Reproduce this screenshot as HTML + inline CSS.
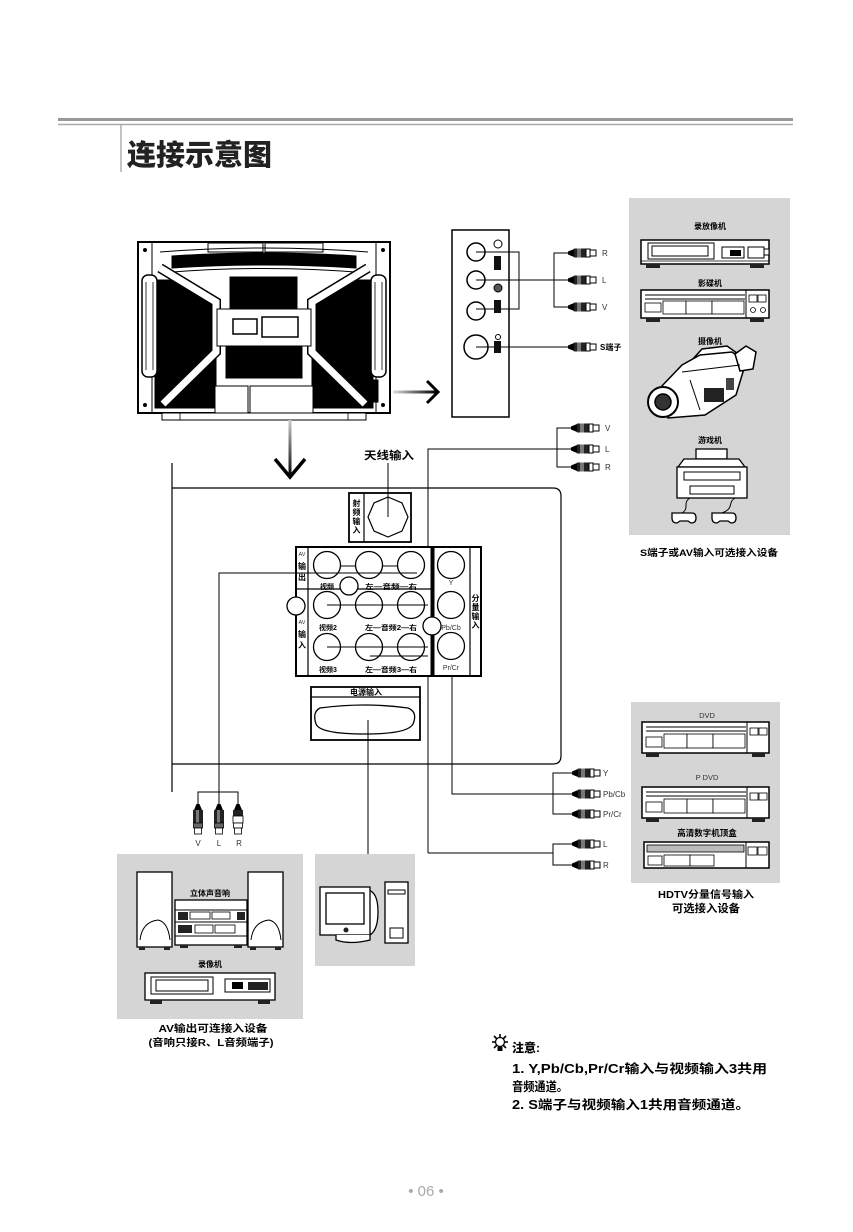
<!DOCTYPE html>
<html><head><meta charset="utf-8">
<style>
html,body{margin:0;padding:0;background:#fff;}
svg{display:block;}
text{font-family:"Liberation Sans","Noto Sans CJK SC",sans-serif;}
.b{font-weight:700;}
.t{font-weight:400;fill:#333;}
</style></head><body>
<svg width="853" height="1232" viewBox="0 0 853 1232" xmlns="http://www.w3.org/2000/svg">
<defs>
<linearGradient id="gh" x1="0" y1="0" x2="1" y2="0"><stop offset="0" stop-color="#ddd"/><stop offset="1" stop-color="#000"/></linearGradient>
<linearGradient id="gv" x1="0" y1="0" x2="0" y2="1"><stop offset="0" stop-color="#ccc"/><stop offset="1" stop-color="#000"/></linearGradient>
<g id="ph">
<path d="M0,-1.5 L6,-4 L6,4 L0,1.5Z" fill="#000"/>
<rect x="6" y="-4.5" width="12" height="9" fill="#222"/>
<rect x="9" y="-4.5" width="4" height="9" fill="#777"/>
<rect x="18" y="-4" width="4" height="8" fill="#fff" stroke="#000" stroke-width="1"/>
<rect x="22" y="-3" width="6" height="6" fill="#fff" stroke="#000" stroke-width="1"/>
</g>
<g id="pv">
<path d="M-1.5,0 L1.5,0 L4,6 L-4,6Z" fill="#000"/>
<rect x="-5" y="6" width="10" height="13" fill="#222"/>
<rect x="-2" y="6" width="3" height="13" fill="#777"/>
<rect x="-4.5" y="19" width="9" height="5" fill="#666" stroke="#000" stroke-width="0.8"/>
<rect x="-3.5" y="24" width="7" height="6" fill="#fff" stroke="#000" stroke-width="0.8"/>
</g>
<g id="pvw">
<path d="M-1.5,0 L1.5,0 L4,6 L-4,6Z" fill="#000"/>
<rect x="-5" y="6" width="10" height="6" fill="#222"/>
<rect x="-5" y="12" width="10" height="7" fill="#fff" stroke="#000" stroke-width="0.8"/>
<rect x="-4.5" y="19" width="9" height="5" fill="#fff" stroke="#000" stroke-width="0.8"/>
<rect x="-3.5" y="24" width="7" height="6" fill="#fff" stroke="#000" stroke-width="0.8"/>
</g>
</defs>

<!-- Header -->
<line x1="58" y1="119.5" x2="793" y2="119.5" stroke="#999" stroke-width="3"/>
<line x1="58" y1="124.5" x2="793" y2="124.5" stroke="#aaa" stroke-width="1.5"/>
<line x1="121" y1="125" x2="121" y2="172" stroke="#888" stroke-width="1"/>
<text x="127" y="165" font-size="29" class="b" fill="#222" style="font-weight:900">连接示意图</text>

<!-- TV back -->
<g stroke="#000">
<rect x="138" y="242" width="252" height="171" fill="#fff" stroke-width="2"/>
<line x1="152" y1="243" x2="152" y2="412" stroke-width="1"/>
<line x1="376" y1="243" x2="376" y2="412" stroke-width="1"/>
<polygon points="155,280 175,280 216,305 216,408 155,408" fill="#000"/>
<polygon points="373,280 353,280 312,305 312,408 373,408" fill="#000"/>
<rect x="230" y="277" width="67" height="33" fill="#000"/>
<rect x="226" y="346" width="76" height="32" fill="#000"/>
<path d="M172,256 Q264,250 356,256 L356,268 Q264,262 172,268Z" fill="#000"/>
<rect x="208" y="243" width="55" height="9" fill="none" stroke-width="1"/>
<rect x="265" y="243" width="58" height="9" fill="none" stroke-width="1"/>
<path d="M160,252 Q264,244 368,252" fill="none" stroke-width="1"/>
<path d="M160,273 Q264,264 368,273" fill="none" stroke-width="1"/>
<polyline points="160,268 216,302 216,352 163,404" fill="none" stroke-width="10"/>
<polyline points="160,268 216,302 216,352 163,404" fill="none" stroke="#fff" stroke-width="7"/>
<polyline points="368,268 312,302 312,352 365,404" fill="none" stroke-width="10"/>
<polyline points="368,268 312,302 312,352 365,404" fill="none" stroke="#fff" stroke-width="7"/>
<rect x="217" y="309" width="94" height="37" fill="#fff" stroke-width="1"/>
<rect x="233" y="319" width="24" height="15" fill="#fff" stroke-width="1.5"/>
<rect x="262" y="317" width="36" height="20" fill="#fff" stroke-width="1.5"/>
<rect x="215" y="386" width="33" height="28" fill="#fff" stroke-width="1"/>
<rect x="250" y="386" width="63" height="28" fill="#fff" stroke-width="1"/>
<rect x="142" y="275" width="15" height="102" rx="6" fill="#fff" stroke-width="1.5"/>
<line x1="146" y1="282" x2="146" y2="370" stroke-width="0.8"/>
<line x1="153" y1="282" x2="153" y2="370" stroke-width="0.8"/>
<rect x="371" y="275" width="15" height="102" rx="6" fill="#fff" stroke-width="1.5"/>
<line x1="375" y1="282" x2="375" y2="370" stroke-width="0.8"/>
<line x1="382" y1="282" x2="382" y2="370" stroke-width="0.8"/>
<rect x="162" y="413" width="204" height="7" fill="#fff" stroke-width="1"/>
<line x1="180" y1="413" x2="180" y2="420" stroke-width="0.8"/>
<line x1="348" y1="413" x2="348" y2="420" stroke-width="0.8"/>
<rect x="372" y="380" width="6" height="22" fill="#000"/>
</g>
<circle cx="145" cy="250" r="2" fill="#000"/>
<circle cx="145" cy="405" r="2" fill="#000"/>
<circle cx="383" cy="250" r="2" fill="#000"/>
<circle cx="383" cy="405" r="2" fill="#000"/>

<!-- arrows -->
<rect x="393" y="390.5" width="43" height="3" fill="url(#gh)"/>
<polyline points="427,381 438,392 427,403" fill="none" stroke="#000" stroke-width="3"/>
<rect x="288.5" y="420" width="3" height="57" fill="url(#gv)"/>
<polyline points="275,459 290,477 305,459" fill="none" stroke="#000" stroke-width="3.5"/>

<!-- side panel -->
<g stroke="#000" fill="none">
<rect x="452" y="230" width="57" height="187" stroke-width="1.5"/>
<circle cx="476" cy="252" r="9" stroke-width="1.5"/>
<circle cx="476" cy="280" r="9" stroke-width="1.5"/>
<circle cx="476" cy="311" r="9" stroke-width="1.5"/>
<circle cx="476" cy="347" r="12" stroke-width="1.5"/>
<polyline points="476,252 519,252 519,309 476,309" stroke-width="1"/>
<line x1="476" y1="280" x2="569" y2="280" stroke-width="1"/>
<line x1="476" y1="347" x2="569" y2="347" stroke-width="1"/>
<polyline points="568,253 554,253 554,307 568,307" stroke-width="1"/>
<circle cx="498" cy="244" r="4" stroke-width="1"/>
<circle cx="498" cy="288" r="4" fill="#555" stroke-width="1"/>
<circle cx="498" cy="337" r="2.5" stroke-width="1"/>
</g>
<rect x="494" y="256" width="7" height="14" fill="#111"/>
<rect x="494" y="300" width="7" height="13" fill="#111"/>
<rect x="494" y="341" width="7" height="12" fill="#111"/>
<use href="#ph" x="568" y="253"/>
<use href="#ph" x="568" y="280"/>
<use href="#ph" x="568" y="307"/>
<use href="#ph" x="568" y="347"/>
<text x="602" y="256" font-size="8" class="t">R</text>
<text x="602" y="283" font-size="8" class="t">L</text>
<text x="602" y="310" font-size="8" class="t">V</text>
<text x="600" y="350" font-size="8" class="b">S端子</text>

<!-- right device panel -->
<rect x="629" y="198" width="161" height="337" fill="#d5d5d5"/>
<text x="710" y="229" font-size="8" class="b" text-anchor="middle">录放像机</text>
<g stroke="#000" fill="#fff">
<rect x="641" y="240" width="128" height="24" stroke-width="1.5"/>
<rect x="648" y="243" width="66" height="16" stroke-width="1"/>
<rect x="652" y="246" width="56" height="10" stroke-width="1"/>
<rect x="722" y="247" width="22" height="11" stroke-width="1"/>
<rect x="748" y="247" width="16" height="11" stroke-width="1"/>
<rect x="764" y="249" width="5" height="6" stroke-width="1"/>
<line x1="641" y1="261" x2="769" y2="261" stroke-width="0.8"/>
</g>
<rect x="730" y="250" width="11" height="6" fill="#000"/>
<rect x="646" y="264" width="14" height="4" fill="#222"/>
<rect x="750" y="264" width="14" height="4" fill="#222"/>
<text x="710" y="286" font-size="8" class="b" text-anchor="middle">影碟机</text>
<g stroke="#000" fill="#fff">
<rect x="641" y="290" width="128" height="28" stroke-width="1.5"/>
<line x1="645" y1="295" x2="745" y2="295" stroke-width="1"/>
<line x1="645" y1="299" x2="745" y2="299" stroke-width="1"/>
<line x1="746" y1="290" x2="746" y2="318" stroke-width="1"/>
<rect x="645" y="303" width="16" height="9" stroke-width="0.8"/>
<rect x="663" y="301" width="23" height="13" stroke-width="0.8"/>
<rect x="686" y="301" width="26" height="13" stroke-width="0.8"/>
<rect x="712" y="301" width="32" height="13" stroke-width="0.8"/>
<rect x="749" y="295" width="8" height="7" stroke-width="0.8"/>
<rect x="758" y="295" width="8" height="7" stroke-width="0.8"/>
<circle cx="753" cy="310" r="2.5" stroke-width="0.8"/>
<circle cx="763" cy="310" r="2.5" stroke-width="0.8"/>
</g>
<rect x="646" y="318" width="14" height="4" fill="#222"/>
<rect x="750" y="318" width="14" height="4" fill="#222"/>
<text x="710" y="344" font-size="8" class="b" text-anchor="middle">摄像机</text>
<g stroke="#000" stroke-width="1.5" fill="#fff">
<polygon points="692,360 702,349 727,346 737,353"/>
<polygon points="660,388 682,365 700,355 732,352 746,362 736,395 705,415 668,418"/>
<polygon points="735,354 746,346 756,352 753,369 740,371"/>
<circle cx="663" cy="402" r="15" stroke-width="2"/>
<circle cx="663" cy="402" r="8" fill="#333"/>
<line x1="682" y1="372" x2="740" y2="365" stroke-width="1"/>
<line x1="690" y1="380" x2="700" y2="410" stroke-width="1"/>
</g>
<rect x="704" y="388" width="20" height="14" fill="#222"/>
<rect x="726" y="378" width="8" height="12" fill="#444"/>
<text x="710" y="443" font-size="8" class="b" text-anchor="middle">游戏机</text>
<g stroke="#000" stroke-width="1.3" fill="#fff">
<rect x="696" y="449" width="31" height="10"/>
<polygon points="684,459 739,459 745,467 678,467"/>
<rect x="677" y="467" width="70" height="31"/>
<rect x="684" y="472" width="56" height="8" stroke-width="1"/>
<rect x="690" y="486" width="44" height="8" stroke-width="1"/>
<path d="M690,498 C682,503 690,508 682,513" fill="none" stroke-width="1"/>
<path d="M735,498 C727,503 735,508 722,513" fill="none" stroke-width="1"/>
<path d="M672,513 h20 q4,0 4,5 q0,5 -5,5 l-3,-2 h-8 l-3,2 q-5,0 -5,-5 q0,-5 0,-5z"/>
<path d="M712,513 h20 q4,0 4,5 q0,5 -5,5 l-3,-2 h-8 l-3,2 q-5,0 -5,-5 q0,-5 0,-5z"/>
</g>
<text x="709" y="556" font-size="9.5" class="b" text-anchor="middle" textLength="138" lengthAdjust="spacingAndGlyphs">S端子或AV输入可选接入设备</text>

<!-- lower right V L R plugs -->
<g stroke="#000" fill="none" stroke-width="1">
<polyline points="571,428 557,428 557,467 571,467"/>
<polyline points="428,853 428,449 571,449"/>
<polyline points="428,853 553,853"/>
<polyline points="572,844 553,844 553,865 572,865"/>
<polyline points="452,565 452,794 572,794"/>
<polyline points="572,773 553,773 553,814 572,814"/>
</g>
<use href="#ph" x="571" y="428"/>
<use href="#ph" x="571" y="449"/>
<use href="#ph" x="571" y="467"/>
<text x="605" y="431" font-size="8" class="t">V</text>
<text x="605" y="452" font-size="8" class="t">L</text>
<text x="605" y="470" font-size="8" class="t">R</text>

<!-- antenna label -->
<text x="389" y="459" font-size="11" class="b" text-anchor="middle" textLength="50" lengthAdjust="spacingAndGlyphs">天线输入</text>

<!-- big frame -->
<g stroke="#000" fill="none" stroke-width="1.2">
<line x1="172" y1="463" x2="172" y2="792"/>
<path d="M172,488 H553 Q561,488 561,496 V756 Q561,764 553,764 H172"/>
</g>

<!-- antenna box -->
<g stroke="#000" fill="#fff" stroke-width="1.8">
<rect x="349" y="493" width="62" height="49"/>
<line x1="364" y1="493" x2="364" y2="542" stroke-width="1.2"/>
<polygon points="388,497 402,503 408,517 402,531 388,537 374,531 368,517 374,503" stroke-width="1.2"/>
</g>
<line x1="388" y1="463" x2="388" y2="517" stroke="#000" stroke-width="1"/>
<g font-size="8" class="b" text-anchor="middle">
<text x="356.5" y="506">射</text><text x="356.5" y="515">频</text><text x="356.5" y="524">输</text><text x="356.5" y="533">入</text>
</g>

<!-- main panel -->
<g stroke="#000" fill="#fff">
<rect x="296" y="547" width="185" height="129" stroke-width="2"/>
<line x1="308" y1="547" x2="308" y2="676" stroke-width="1.2"/>
<line x1="296" y1="589" x2="431" y2="589" stroke-width="1.2"/>
<line x1="470" y1="547" x2="470" y2="676" stroke-width="1.2"/>
</g>
<rect x="430.5" y="547" width="4" height="129" fill="#000"/>
<g stroke="#000" fill="#fff" stroke-width="1.3">
<circle cx="327" cy="565" r="13.5"/><circle cx="369" cy="565" r="13.5"/><circle cx="411" cy="565" r="13.5"/>
<circle cx="327" cy="605" r="13.5"/><circle cx="369" cy="605" r="13.5"/><circle cx="411" cy="605" r="13.5"/>
<circle cx="327" cy="647" r="13.5"/><circle cx="369" cy="647" r="13.5"/><circle cx="411" cy="647" r="13.5"/>
<circle cx="451" cy="565" r="13.5"/><circle cx="451" cy="605" r="13.5"/><circle cx="451" cy="646" r="13.5"/>
<circle cx="349" cy="586" r="9"/>
</g>
<g stroke="#000" fill="none" stroke-width="1">
<line x1="340" y1="566" x2="356" y2="566"/><line x1="382" y1="566" x2="398" y2="566"/>
<polyline points="219,792 219,573 417,573"/>
<line x1="327" y1="605" x2="428" y2="605"/>
<line x1="327" y1="647" x2="428" y2="647"/>
<line x1="370" y1="656" x2="428" y2="656"/>
</g>
<circle cx="296" cy="606" r="9" fill="#fff" stroke="#000" stroke-width="1.3"/>
<circle cx="432" cy="626" r="9" fill="#fff" stroke="#000" stroke-width="1.3"/>
<g font-size="7" class="b" text-anchor="middle">
<text x="327" y="589">视频</text>
<text x="391" y="589" textLength="52" lengthAdjust="spacingAndGlyphs">左—音频—右</text>
<text x="328" y="630">视频2</text>
<text x="391" y="630" textLength="52" lengthAdjust="spacingAndGlyphs">左—音频2—右</text>
<text x="328" y="672">视频3</text>
<text x="391" y="672" textLength="52" lengthAdjust="spacingAndGlyphs">左—音频3—右</text>
</g>
<g font-size="7" class="t" text-anchor="middle">
<text x="451" y="585">Y</text>
<text x="451" y="630">Pb/Cb</text>
<text x="451" y="670">Pr/Cr</text>
</g>
<g text-anchor="middle">
<text x="302" y="556" font-size="5.5" class="t">AV</text>
<text x="302" y="569" font-size="8" class="b">输</text>
<text x="302" y="580" font-size="8" class="b">出</text>
<text x="302" y="624" font-size="5.5" class="t">AV</text>
<text x="302" y="637" font-size="8" class="b">输</text>
<text x="302" y="648" font-size="8" class="b">入</text>
<text x="475.5" y="601" font-size="8" class="b">分</text>
<text x="475.5" y="610" font-size="8" class="b">量</text>
<text x="475.5" y="619" font-size="8" class="b">输</text>
<text x="475.5" y="628" font-size="8" class="b">入</text>
</g>

<!-- power box -->
<g stroke="#000" fill="#fff">
<rect x="311" y="687" width="109" height="53" stroke-width="1.8"/>
<line x1="311" y1="697" x2="420" y2="697" stroke-width="1.2"/>
<path d="M320,708 Q365,702 408,708 Q418,712 413,724 Q408,734 365,734 Q320,734 316,724 Q312,712 320,708Z" stroke-width="1.3"/>
</g>
<text x="366" y="695" font-size="8" class="b" text-anchor="middle">电源输入</text>
<line x1="368" y1="720" x2="368" y2="855" stroke="#000" stroke-width="1"/>

<!-- HDTV panel -->
<rect x="631" y="702" width="149" height="181" fill="#d5d5d5"/>
<text x="707" y="718" font-size="7.5" class="t" text-anchor="middle">DVD</text>
<text x="707" y="780" font-size="7.5" class="t" text-anchor="middle">P DVD</text>
<text x="707" y="836" font-size="8.5" class="b" text-anchor="middle">高清数字机顶盒</text>
<g stroke="#000" fill="#fff">
<rect x="642" y="722" width="127" height="31" stroke-width="1.5"/>
<line x1="646" y1="727" x2="746" y2="727" stroke-width="1"/>
<line x1="646" y1="731" x2="746" y2="731" stroke-width="1"/>
<line x1="747" y1="722" x2="747" y2="753" stroke-width="1"/>
<rect x="646" y="737" width="16" height="10" stroke-width="0.8"/>
<rect x="664" y="734" width="23" height="14" stroke-width="0.8"/>
<rect x="687" y="734" width="26" height="14" stroke-width="0.8"/>
<rect x="713" y="734" width="32" height="14" stroke-width="0.8"/>
<rect x="750" y="728" width="8" height="7" stroke-width="0.8"/>
<rect x="759" y="728" width="8" height="7" stroke-width="0.8"/>

<rect x="642" y="787" width="127" height="31" stroke-width="1.5"/>
<line x1="646" y1="792" x2="746" y2="792" stroke-width="1"/>
<line x1="646" y1="796" x2="746" y2="796" stroke-width="1"/>
<line x1="747" y1="787" x2="747" y2="818" stroke-width="1"/>
<rect x="646" y="802" width="16" height="10" stroke-width="0.8"/>
<rect x="664" y="799" width="23" height="14" stroke-width="0.8"/>
<rect x="687" y="799" width="26" height="14" stroke-width="0.8"/>
<rect x="713" y="799" width="32" height="14" stroke-width="0.8"/>
<rect x="750" y="793" width="8" height="7" stroke-width="0.8"/>
<rect x="759" y="793" width="8" height="7" stroke-width="0.8"/>

<rect x="644" y="842" width="125" height="26" stroke-width="1.5"/>
<rect x="647" y="845" width="97" height="7" fill="#bbb" stroke-width="0.8"/>
<line x1="746" y1="842" x2="746" y2="868" stroke-width="1"/>
<rect x="748" y="847" width="9" height="8" stroke-width="0.8"/>
<rect x="758" y="847" width="9" height="8" stroke-width="0.8"/>
<rect x="648" y="856" width="14" height="9" stroke-width="0.8"/>
<rect x="664" y="855" width="26" height="11" stroke-width="0.8"/>
<rect x="690" y="855" width="24" height="11" stroke-width="0.8"/>
</g>
<rect x="646" y="753" width="13" height="4" fill="#222"/><rect x="752" y="753" width="13" height="4" fill="#222"/>
<rect x="646" y="818" width="13" height="4" fill="#222"/><rect x="752" y="818" width="13" height="4" fill="#222"/>
<text x="706" y="898" font-size="10" class="b" text-anchor="middle" textLength="96" lengthAdjust="spacingAndGlyphs">HDTV分量信号输入</text>
<text x="706" y="912" font-size="11" class="b" text-anchor="middle" textLength="68" lengthAdjust="spacingAndGlyphs">可选接入设备</text>

<use href="#ph" x="572" y="773"/>
<use href="#ph" x="572" y="794"/>
<use href="#ph" x="572" y="814"/>
<use href="#ph" x="572" y="844"/>
<use href="#ph" x="572" y="865"/>
<text x="603" y="776" font-size="8" class="t">Y</text>
<text x="603" y="797" font-size="8" class="t">Pb/Cb</text>
<text x="603" y="817" font-size="8" class="t">Pr/Cr</text>
<text x="603" y="847" font-size="8" class="t">L</text>
<text x="603" y="868" font-size="8" class="t">R</text>

<!-- bottom-left plugs -->
<polyline points="198,805 198,792 238,792 238,805" fill="none" stroke="#000" stroke-width="1"/>
<line x1="219" y1="792" x2="219" y2="805" stroke="#000" stroke-width="1"/>
<use href="#pv" x="198" y="804"/>
<use href="#pv" x="219" y="804"/>
<use href="#pvw" x="238" y="804"/>
<text x="198" y="846" font-size="8" class="t" text-anchor="middle">V</text>
<text x="219" y="846" font-size="8" class="t" text-anchor="middle">L</text>
<text x="239" y="846" font-size="8" class="t" text-anchor="middle">R</text>

<!-- left gray box -->
<rect x="117" y="854" width="186" height="165" fill="#d5d5d5"/>
<g stroke="#000" fill="#fff" stroke-width="1.3">
<rect x="137" y="872" width="35" height="75"/>
<path d="M140,940 Q142,922 158,920 Q168,922 170,940" fill="none" stroke-width="1"/>
<rect x="248" y="872" width="35" height="75"/>
<path d="M251,940 Q253,922 269,920 Q279,922 281,940" fill="none" stroke-width="1"/>
<rect x="175" y="900" width="72" height="45"/>
<line x1="175" y1="910" x2="247" y2="910" stroke-width="1"/>
<line x1="175" y1="922" x2="247" y2="922" stroke-width="1"/>
<line x1="175" y1="936" x2="247" y2="936" stroke-width="1"/>
<rect x="190" y="912" width="20" height="7" stroke-width="0.8"/>
<rect x="212" y="912" width="18" height="7" stroke-width="0.8"/>
<rect x="195" y="925" width="18" height="8" stroke-width="0.8"/>
<rect x="215" y="925" width="20" height="8" stroke-width="0.8"/>
<rect x="145" y="973" width="130" height="27"/>
<rect x="151" y="977" width="62" height="17" stroke-width="1"/>
<rect x="156" y="980" width="52" height="11" stroke-width="1"/>
<rect x="225" y="979" width="45" height="13" stroke-width="1"/>
</g>
<rect x="178" y="912" width="10" height="8" fill="#222"/>
<rect x="237" y="912" width="8" height="8" fill="#222"/>
<rect x="178" y="925" width="14" height="8" fill="#222"/>
<rect x="232" y="982" width="11" height="7" fill="#000"/>
<rect x="248" y="982" width="20" height="8" fill="#222"/>
<rect x="139" y="947" width="6" height="3" fill="#222"/><rect x="164" y="947" width="6" height="3" fill="#222"/>
<rect x="250" y="947" width="6" height="3" fill="#222"/><rect x="275" y="947" width="6" height="3" fill="#222"/>
<rect x="180" y="945" width="8" height="3" fill="#222"/><rect x="234" y="945" width="8" height="3" fill="#222"/>
<rect x="150" y="1000" width="12" height="4" fill="#222"/><rect x="258" y="1000" width="12" height="4" fill="#222"/>
<text x="210" y="896" font-size="8" class="b" text-anchor="middle">立体声音响</text>
<text x="210" y="967" font-size="8" class="b" text-anchor="middle">录像机</text>
<text x="213" y="1032" font-size="10" class="b" text-anchor="middle" textLength="109" lengthAdjust="spacingAndGlyphs">AV输出可连接入设备</text>
<text x="211" y="1046" font-size="10" class="b" text-anchor="middle" textLength="125" lengthAdjust="spacingAndGlyphs">(音响只接R、L音频端子)</text>

<!-- computer box -->
<rect x="315" y="854" width="100" height="112" fill="#d5d5d5"/>
<g stroke="#000" fill="#fff" stroke-width="1.3">
<path d="M368,890 Q378,892 378,912 Q378,932 368,936Z"/>
<rect x="320" y="887" width="50" height="48"/>
<rect x="326" y="893" width="38" height="31"/>
<path d="M336,935 L336,940 Q350,945 370,940 L370,935" />
<rect x="385" y="882" width="23" height="61"/>
<rect x="388" y="890" width="17" height="4" stroke-width="1"/>
<rect x="390" y="928" width="13" height="10" stroke-width="1"/>
</g>
<circle cx="346" cy="930" r="2.5" fill="#222"/>

<!-- notes -->
<g transform="translate(500,1042)" stroke="#000" stroke-width="1.6">
<line x1="0" y1="-8" x2="0" y2="8"/><line x1="-8" y1="0" x2="8" y2="0"/>
<line x1="-6" y1="-6" x2="6" y2="6"/><line x1="-6" y1="6" x2="6" y2="-6"/>
<circle cx="0" cy="0" r="4.5" fill="#fff" stroke-width="1.3"/>
<rect x="-2.5" y="5" width="5" height="4" fill="#000" stroke="none"/>
</g>
<text x="512" y="1052" font-size="12" class="b" style="font-weight:900">注意:</text>
<text x="512" y="1073" font-size="12.5" class="b" textLength="255" lengthAdjust="spacingAndGlyphs">1. Y,Pb/Cb,Pr/Cr输入与视频输入3共用</text>
<text x="512" y="1091" font-size="12.5" class="b" textLength="56" lengthAdjust="spacingAndGlyphs">音频通道。</text>
<text x="512" y="1109" font-size="12.5" class="b" textLength="238" lengthAdjust="spacingAndGlyphs">2. S端子与视频输入1共用音频通道。</text>

<!-- page number -->
<text x="426" y="1196" font-size="15" fill="#aaa" text-anchor="middle">•  06  •</text>
</svg>
</body></html>
